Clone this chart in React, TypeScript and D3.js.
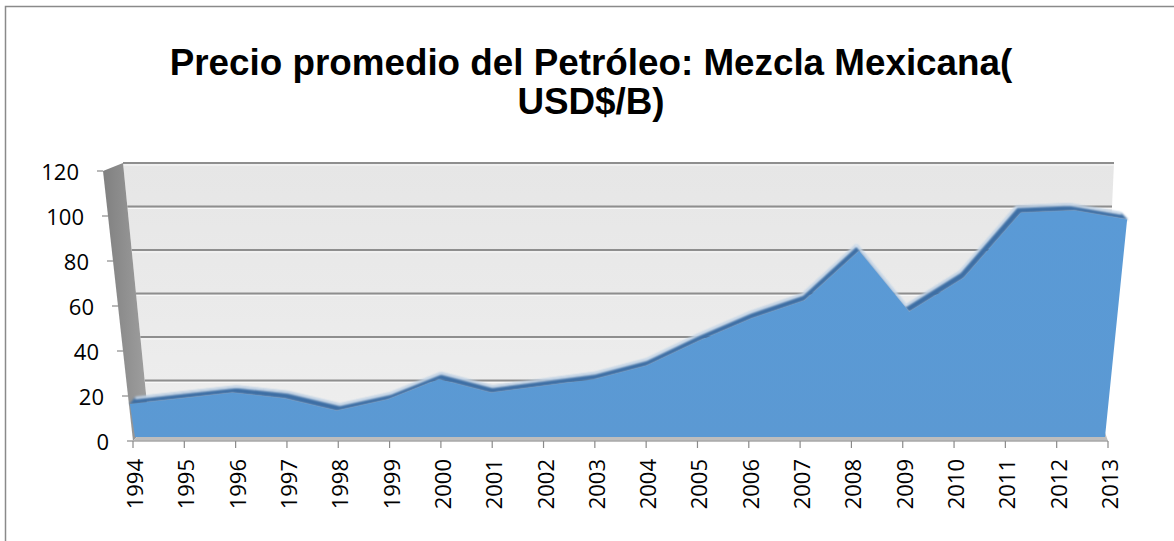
import React from 'react';
import * as d3 from 'd3';

const years = ['1994','1995','1996','1997','1998','1999','2000','2001','2002','2003','2004','2005','2006','2007','2008','2009','2010','2011','2012','2013'];
const prices = [16, 18.5, 21, 18.5, 13, 18, 27, 21, 24, 27, 33, 44, 54, 62, 84, 57, 72, 101, 102, 98];
const yTicks = [0, 20, 40, 60, 80, 100, 120];
const titleLines = ['Precio promedio del Petróleo: Mezcla Mexicana(', 'USD$/B)'];

const W = 1174, H = 541;

export default function App() {
  const xScale = d3.scalePoint<string>().domain(years).range([133, 1108]);
  const yFront = d3.scaleLinear().domain([0, 120]).range([440, 170]);
  const yAxisS = d3.scaleLinear().domain([0, 120]).range([441, 171]);
  const axisX = d3.scaleLinear().domain([0, 120]).range([133, 103]);
  const yBack = d3.scaleLinear().domain([0, 120]).range([424, 163]);
  const backLeft = d3.scaleLinear().domain([163, 424]).range([123, 149]);
  const backRight = d3.scaleLinear().domain([163, 424]).range([1114, 1102]);
  const cx = 620, persp = 0.0004;
  const fx = (x: number, v: number) => cx + (x - cx) * (1 + persp * v);

  const front: [number, number][] = years.map((yr, i) => [fx(xScale(yr)!, prices[i]), yFront(prices[i])]);
  const back: [number, number][] = front.map(([x, y]) => [x + (cx - x) * 0.011, y - 6]);

  const line = d3.line();
  const x0 = xScale(years[0])!, x1 = xScale(years[years.length - 1])!;
  const baseY = yFront(0) - 3;
  const frontPoly: [number, number][] = [[x0 + 2, baseY], ...front, [x1 - 3, baseY]];
  const bandPoly: [number, number][] = [...front, ...back.slice().reverse()];

  const sideWall: [number, number][] = [[axisX(120), yAxisS(120)], [backLeft(163), 163], [backLeft(424), 424], [axisX(0), yAxisS(0)]];
  const backWall: [number, number][] = [[backLeft(163), 163], [backRight(163), 163], [backRight(424), 424], [backLeft(424), 424]];
  const floor: [number, number][] = [[axisX(0), yAxisS(0)], [backLeft(424), 424], [backRight(424), 424], [x1, yAxisS(0)]];

  const labelFont = "'Open Sans', 'Liberation Sans', sans-serif";

  return (
    <svg width={W} height={H} style={{ position: 'absolute', left: 0, top: 0, background: '#fff' }}>
      <defs>
        <linearGradient id="side" x1="0" x2="1" y1="0" y2="0">
          <stop offset="0" stopColor="#808080" />
          <stop offset="1" stopColor="#a0a0a0" />
        </linearGradient>
        <linearGradient id="wall" x1="0" x2="0" y1="0" y2="1">
          <stop offset="0" stopColor="#e6e6e6" />
          <stop offset="1" stopColor="#eeeeee" />
        </linearGradient>
        <linearGradient id="area" x1="0" x2="0" y1="0" y2="1">
          <stop offset="0" stopColor="#5a9ad6" />
          <stop offset="1" stopColor="#5b99d3" />
        </linearGradient>
        <filter id="blur" x="-5%" y="-20%" width="110%" height="140%">
          <feGaussianBlur stdDeviation="1" />
        </filter>
      </defs>
      <rect x={5.5} y={6.5} width={W + 20} height={H + 20} fill="#fff" stroke="#8a8a8a" strokeWidth={1.5} />

      {titleLines.map((t, i) => (
        <text key={i} x={591} y={75 + i * 39} textAnchor="middle" fontFamily="'Liberation Sans', Arial, sans-serif" fontWeight="bold" fontSize={36.8} fill="#000">{t}</text>
      ))}

      <path d={line(backWall)! + 'Z'} fill="url(#wall)" />
      {yTicks.map(v => {
        const y = yBack(v);
        return (
          <g key={v}>
            <line x1={backLeft(y)} x2={backRight(y)} y1={y} y2={y} stroke="#8e8e8e" strokeWidth={2} />
            <line x1={backLeft(y + 2)} x2={backRight(y + 2)} y1={y + 2} y2={y + 2} stroke="#f8f8f8" strokeWidth={1} />
          </g>
        );
      })}
      <path d={line(sideWall)! + 'Z'} fill="url(#side)" />
      <path d={line(floor)! + 'Z'} fill="#bdbdbd" />

      <path d={line(bandPoly)! + 'Z'} fill="#3d6ea4" stroke="#3d6ea4" strokeWidth={1} filter="url(#blur)" />
      <path d={line(back)!} fill="none" stroke="#eef5fc" strokeWidth={2} filter="url(#blur)" />
      <path d={line(frontPoly)! + 'Z'} fill="url(#area)" />

      <line x1={axisX(0)} x2={x1} y1={yAxisS(0)} y2={yAxisS(0)} stroke="#a8a8a8" strokeWidth={1.5} />
      {yTicks.map(v => (
        <g key={v}>
          <line x1={axisX(v) - 6} x2={axisX(v)} y1={yAxisS(v)} y2={yAxisS(v)} stroke="#8a8a8a" strokeWidth={1.2} />
          <text x={axisX(v) - 24} y={yAxisS(v)} textAnchor="end" dominantBaseline="central" fontFamily={labelFont} fontSize={22} fill="#000">{v}</text>
        </g>
      ))}
      {years.map(yr => (
        <g key={yr}>
          <line x1={xScale(yr)!} x2={xScale(yr)!} y1={yAxisS(0)} y2={yAxisS(0) + 7} stroke="#8a8a8a" strokeWidth={1.2} />
          <text transform={`translate(${xScale(yr)! + 1},459) rotate(-90)`} textAnchor="end" dominantBaseline="central" fontFamily={labelFont} fontSize={22} fill="#000">{yr}</text>
        </g>
      ))}
    </svg>
  );
}
